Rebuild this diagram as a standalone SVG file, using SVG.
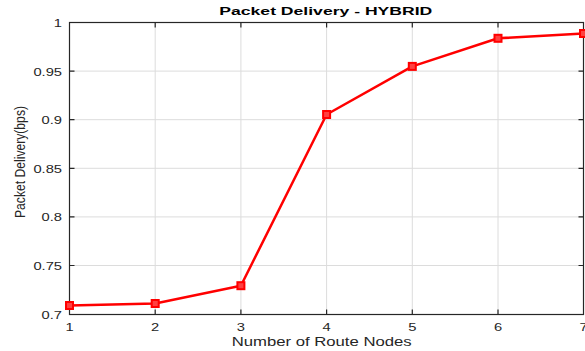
<svg xmlns="http://www.w3.org/2000/svg" width="585" height="351" viewBox="0 0 585 351">
<style>
.grid{stroke:#dcdcdc;stroke-width:1;fill:none}
.ax{stroke:#262626;stroke-width:1.2;fill:none}
.tk{font-family:"Liberation Sans",Arial,sans-serif;font-size:10.5px;fill:#262626}
.lbl{font-family:"Liberation Sans",Arial,sans-serif;font-size:13px;fill:#262626}
.title{font-family:"Liberation Sans",Arial,sans-serif;font-size:11px;font-weight:bold;fill:#000}
.mk{fill:#ff4040;stroke:#ff0000;stroke-width:2}
</style>
<rect width="585" height="351" fill="#fff"/>
<g id="grid">
<path class="grid" d="M155.2 22.5V314.5M240.9 22.5V314.5M326.6 22.5V314.5M412.3 22.5V314.5M498 22.5V314.5M69.5 71.1H583.5M69.5 119.7H583.5M69.5 168.3H583.5M69.5 216.9H583.5M69.5 265.5H583.5"/>
</g>
<g id="axes">
<rect class="ax" x="69.5" y="22.5" width="514" height="292"/>
<path class="ax" d="M155.2 314.5v-5M240.9 314.5v-5M326.6 314.5v-5M412.3 314.5v-5M498 314.5v-5M155.2 22.5v5M240.9 22.5v5M326.6 22.5v5M412.3 22.5v5M498 22.5v5M69.5 71.1h5M69.5 119.7h5M69.5 168.3h5M69.5 216.9h5M69.5 265.5h5M583.5 71.1h-5M583.5 119.7h-5M583.5 168.3h-5M583.5 216.9h-5M583.5 265.5h-5"/>
</g>
<g id="yticks" class="tk" text-anchor="end">
<text x="62" y="26.5" textLength="8.2" lengthAdjust="spacingAndGlyphs">1</text>
<text x="62" y="75.6" textLength="28.6" lengthAdjust="spacingAndGlyphs">0.95</text>
<text x="62" y="124.2" textLength="20.4" lengthAdjust="spacingAndGlyphs">0.9</text>
<text x="62" y="172.8" textLength="28.6" lengthAdjust="spacingAndGlyphs">0.85</text>
<text x="62" y="221.4" textLength="20.4" lengthAdjust="spacingAndGlyphs">0.8</text>
<text x="62" y="270" textLength="28.6" lengthAdjust="spacingAndGlyphs">0.75</text>
<text x="62" y="318.8" textLength="20.4" lengthAdjust="spacingAndGlyphs">0.7</text>
</g>
<g id="xticks" class="tk" text-anchor="middle">
<text x="69.5" y="331" textLength="8.2" lengthAdjust="spacingAndGlyphs">1</text>
<text x="155.2" y="331" textLength="8.2" lengthAdjust="spacingAndGlyphs">2</text>
<text x="240.9" y="331" textLength="8.2" lengthAdjust="spacingAndGlyphs">3</text>
<text x="326.6" y="331" textLength="8.2" lengthAdjust="spacingAndGlyphs">4</text>
<text x="412.3" y="331" textLength="8.2" lengthAdjust="spacingAndGlyphs">5</text>
<text x="498" y="331" textLength="8.2" lengthAdjust="spacingAndGlyphs">6</text>
<text x="583.5" y="331" textLength="8.2" lengthAdjust="spacingAndGlyphs">7</text>
</g>
<g id="series">
<polyline points="69.5,305.5 155.2,303.5 240.9,285.7 326.6,114.5 412.3,66.4 498,38.3 583.5,33.5" fill="none" stroke="#ff0000" stroke-width="2.5" stroke-linejoin="round"/>
<rect class="mk" x="66" y="302" width="7" height="7"/>
<rect class="mk" x="151.7" y="300" width="7" height="7"/>
<rect class="mk" x="237.4" y="282.2" width="7" height="7"/>
<rect class="mk" x="323.1" y="111" width="7" height="7"/>
<rect class="mk" x="408.8" y="62.9" width="7" height="7"/>
<rect class="mk" x="494.5" y="34.8" width="7" height="7"/>
<rect class="mk" x="580" y="30" width="7" height="7"/>
</g>
<g id="title">
<text class="title" x="325.8" y="15" text-anchor="middle" textLength="213" lengthAdjust="spacingAndGlyphs">Packet Delivery - HYBRID</text>
</g>
<g id="xlabel">
<text class="lbl" x="321.7" y="346" text-anchor="middle" textLength="180" lengthAdjust="spacingAndGlyphs">Number of Route Nodes</text>
</g>
<g id="ylabel">
<text class="lbl" x="0" y="0" text-anchor="middle" transform="translate(24.5,162) rotate(-90)" style="font-size:15px" textLength="112" lengthAdjust="spacingAndGlyphs">Packet Delivery(bps)</text>
</g>
</svg>
